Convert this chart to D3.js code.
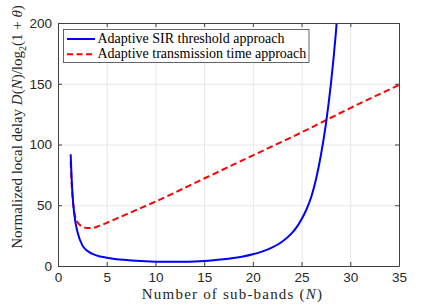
<!DOCTYPE html>
<html>
<head>
<meta charset="utf-8">
<script src="https://cdn.jsdelivr.net/npm/d3@7"></script>
<style>
  body { margin: 0; background: #fff; }
  svg { display: block; }
</style>
</head>
<body>
<svg id="chart"></svg>
<script>
// ---- data ----
var xTicks = [0, 5, 10, 15, 20, 25, 30, 35];
var yTicks = [0, 50, 100, 150, 200];

// adaptive SIR threshold approach (blue, solid)
var sirN = [1.3, 1.4, 1.5, 1.6, 1.75, 2, 2.5, 3, 4, 5, 6, 7, 8, 10, 12, 14, 15, 16, 17, 18, 19, 20, 21, 22, 23, 24, 24.5, 25, 25.5, 26, 26.5, 27, 27.5, 28, 28.5, 28.8];
var sirD = [92, 72, 58, 48, 38, 28, 17, 12.5, 8.5, 6.8, 5.6, 4.9, 4.3, 3.6, 3.4, 3.8, 4.2, 4.8, 5.5, 6.5, 7.8, 9.6, 12, 15.3, 20, 27, 32, 38.5, 46.5, 57, 72, 92, 117, 149, 190, 220];

// adaptive transmission time approach (red, dashed)
var timeN = [1.3, 1.4, 1.5, 1.6, 1.75, 2, 2.5, 3, 3.5, 4, 5, 6, 8, 10, 15, 20, 25, 30, 35];
var timeD = [86, 68, 56, 48, 41, 36, 32.5, 31.2, 31.2, 32.3, 35.5, 39, 46, 53, 72, 91, 110, 130, 149];

var seriesNames = ["Adaptive SIR threshold approach", "Adaptive transmission time approach"];

// ---- sizing ----
var width = 442, height = 305;
var pLeft = 58, pRight = 399, pTop = 23, pBottom = 266;

var svg = d3.select("#chart").attr("width", width).attr("height", height);

var x = d3.scaleLinear().domain([0, 35]).range([pLeft, pRight]);
var y = d3.scaleLinear().domain([0, 200]).range([pBottom, pTop]);

// grid
svg.append("g")
  .attr("transform", "translate(0," + pBottom + ")")
  .call(d3.axisBottom(x).tickValues(xTicks).tickSize(-(pBottom - pTop)).tickFormat(""))
  .call(function(g) { g.select(".domain").remove(); })
  .selectAll("line").attr("stroke", "#e8e8e8");
svg.append("g")
  .attr("transform", "translate(" + pLeft + ",0)")
  .call(d3.axisLeft(y).tickValues(yTicks).tickSize(-(pRight - pLeft)).tickFormat(""))
  .call(function(g) { g.select(".domain").remove(); })
  .selectAll("line").attr("stroke", "#e8e8e8");

// lines
svg.append("clipPath").attr("id", "clip")
  .append("rect").attr("x", pLeft).attr("y", pTop).attr("width", pRight - pLeft).attr("height", pBottom - pTop);

var line = d3.line()
  .x(function(d) { return x(d[0]); })
  .y(function(d) { return y(d[1]); })
  .curve(d3.curveMonotoneX);

svg.append("path")
  .datum(d3.zip(timeN, timeD))
  .attr("clip-path", "url(#clip)")
  .attr("fill", "none")
  .attr("stroke", "#ff0000")
  .attr("stroke-width", 2)
  .attr("stroke-dasharray", "6.5,3.5")
  .attr("d", line);

svg.append("path")
  .datum(d3.zip(sirN, sirD))
  .attr("clip-path", "url(#clip)")
  .attr("fill", "none")
  .attr("stroke", "#0000ff")
  .attr("stroke-width", 2)
  .attr("d", line);

// axes (box, ticks inward)
var axisColor = "#404040";
function styleAxis(g) {
  g.select(".domain").attr("stroke", axisColor);
  g.selectAll(".tick line").attr("stroke", axisColor);
  g.selectAll("text").attr("fill", "#262626")
    .style("font-family", "'Liberation Sans', Arial, sans-serif").style("font-size", "13.5px");
}
svg.append("g").attr("transform", "translate(0," + pBottom + ")")
  .call(d3.axisBottom(x).tickValues(xTicks).tickSizeInner(-4).tickSizeOuter(0).tickPadding(6))
  .call(styleAxis);
svg.append("g").attr("transform", "translate(0," + pTop + ")")
  .call(d3.axisTop(x).tickValues(xTicks).tickSizeInner(-4).tickSizeOuter(0).tickFormat(""))
  .call(styleAxis);
svg.append("g").attr("transform", "translate(" + pLeft + ",0)")
  .call(d3.axisLeft(y).tickValues(yTicks).tickSizeInner(-4).tickSizeOuter(0).tickPadding(6))
  .call(styleAxis);
svg.append("g").attr("transform", "translate(" + pRight + ",0)")
  .call(d3.axisRight(y).tickValues(yTicks).tickSizeInner(-4).tickSizeOuter(0).tickFormat(""))
  .call(styleAxis);

// axis labels
var serif = "'Liberation Serif', 'Times New Roman', serif";
var xl = svg.append("text")
  .attr("x", 232.5).attr("y", 298.5)
  .attr("text-anchor", "middle")
  .style("font-family", serif).style("font-size", "15px")
  .style("letter-spacing", "1.2px").attr("fill", "#262626");
xl.append("tspan").text("Number of sub-bands (");
xl.append("tspan").style("font-style", "italic").text("N");
xl.append("tspan").text(")");

var yl = svg.append("text")
  .attr("transform", "translate(22,127) rotate(-90)")
  .attr("text-anchor", "middle")
  .style("font-family", serif).style("font-size", "15px").attr("fill", "#262626");
yl.append("tspan").text("Normalized local delay ");
yl.append("tspan").style("font-style", "italic").text("D");
yl.append("tspan").text("(");
yl.append("tspan").style("font-style", "italic").text("N");
yl.append("tspan").text(")/log");
yl.append("tspan").attr("dy", 4).style("font-size", "10px").text("2");
yl.append("tspan").attr("dy", -4).text("(1 + ");
yl.append("tspan").style("font-style", "italic").text("θ");
yl.append("tspan").text(")");

// legend
var legend = svg.append("g");
legend.append("rect")
  .attr("x", 63.5).attr("y", 29.5).attr("width", 245.5).attr("height", 33)
  .attr("fill", "#fff").attr("stroke", axisColor).attr("stroke-width", 0.8);
var legendColors = ["#0000ff", "#ff0000"];
var legendDash = [null, "6,3.5"];
seriesNames.forEach(function(name, i) {
  var ly = 39 + i * 15.3;
  legend.append("line")
    .attr("x1", 67).attr("x2", 95).attr("y1", ly).attr("y2", ly)
    .attr("stroke", legendColors[i]).attr("stroke-width", 2)
    .attr("stroke-dasharray", legendDash[i]);
  legend.append("text")
    .attr("x", 97.5).attr("y", ly + 4)
    .style("font-family", serif).style("font-size", "14px").attr("fill", "#000")
    .text(name);
});
</script>
</body>
</html>
